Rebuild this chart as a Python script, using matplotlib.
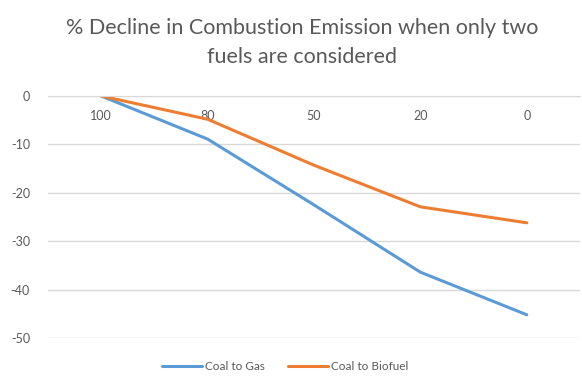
import matplotlib.pyplot as plt

# Share of coal in the fuel mix (%) and the resulting decline in emissions
coal_share = ["100", "80", "50", "20", "0"]
coal_to_gas = [0, -8.9, -22.5, -36.4, -45.2]
coal_to_biofuel = [0, -4.8, -14.3, -22.9, -26.2]

grey_text = "#595959"
grid_col = "#d9d9d9"

plt.rcParams['font.family'] = ['Lato', 'DejaVu Sans']

fig = plt.figure(figsize=(5.82, 3.83), dpi=100)
ax = fig.add_axes([48 / 582, 1 - 338 / 383, 532 / 582, 242 / 383])

x = range(len(coal_share))
ax.plot(x, coal_to_gas, color="#5b9bd5", lw=2.2, label="Coal to Gas", solid_capstyle="round")
ax.plot(x, coal_to_biofuel, color="#ed7d31", lw=2.2, label="Coal to Biofuel", solid_capstyle="round")

ax.set_xlim(-0.5, len(coal_share) - 0.5)
ax.set_ylim(-50, 0)
ax.set_yticks(range(-50, 1, 10))
ax.set_yticklabels([str(v) for v in range(-50, 1, 10)])
ax.set_xticks(list(x))
ax.set_xticklabels(coal_share)

# category axis sits on the zero line, labels just below it
ax.spines['bottom'].set_position(('data', 0))
ax.spines['bottom'].set_color(grid_col)
for side in ['top', 'right', 'left']:
    ax.spines[side].set_visible(False)

ax.grid(axis='y', color=grid_col, lw=1)
ax.set_axisbelow(True)
ax.tick_params(axis='x', length=0, pad=10, labelsize=9, labelcolor=grey_text)
ax.tick_params(axis='y', length=0, pad=13, labelsize=9, labelcolor=grey_text)

fig.text(0.519, 0.889, "% Decline in Combustion Emission when only two\nfuels are considered",
         ha='center', va='center', fontsize=15.5, color=grey_text, linespacing=1.55)

ax.legend(loc='center', bbox_to_anchor=((285 - 48) / 532, (383 - 367 - 45) / 242), ncol=2, frameon=False,
          fontsize=8.5, labelcolor=grey_text, handlelength=3.4, handletextpad=0.2, columnspacing=2.0)

fig.savefig("out.png", dpi=100)
